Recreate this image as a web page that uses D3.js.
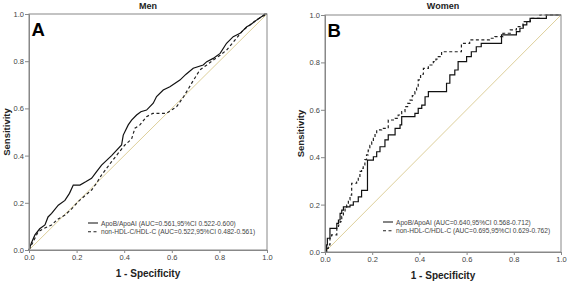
<!DOCTYPE html>
<html>
<head>
<style>
  body { margin: 0; background: #fff; }
  svg { display: block; font-family: Arial, "Liberation Sans", sans-serif; }
</style>
</head>
<body>
<svg id="svg" width="567" height="281"></svg>
<script src="https://d3js.org/d3.v7.min.js"></script>
<script>
// ROC points [1 - specificity, sensitivity]
const menApo = [[0,0],[0.01,0.03],[0.025,0.064],[0.045,0.09],[0.067,0.106],[0.08,0.14],[0.095,0.155],[0.123,0.19],[0.151,0.21],[0.17,0.24],[0.186,0.275],[0.214,0.275],[0.24,0.29],[0.263,0.304],[0.284,0.332],[0.305,0.36],[0.347,0.40],[0.389,0.445],[0.396,0.487],[0.417,0.53],[0.431,0.55],[0.452,0.572],[0.47,0.586],[0.494,0.593],[0.522,0.622],[0.536,0.65],[0.564,0.678],[0.592,0.692],[0.634,0.72],[0.66,0.745],[0.69,0.77],[0.732,0.784],[0.747,0.798],[0.774,0.812],[0.803,0.833],[0.83,0.876],[0.858,0.904],[0.887,0.918],[0.915,0.946],[0.929,0.953],[0.957,0.975],[0.978,0.989],[0.99,1],[1,1]];
const menNon = [[0,0],[0.02,0.04],[0.039,0.078],[0.06,0.09],[0.095,0.106],[0.12,0.13],[0.151,0.148],[0.18,0.175],[0.207,0.205],[0.235,0.23],[0.263,0.254],[0.285,0.285],[0.305,0.318],[0.347,0.374],[0.375,0.41],[0.403,0.445],[0.431,0.47],[0.445,0.516],[0.466,0.53],[0.494,0.565],[0.52,0.579],[0.578,0.579],[0.62,0.607],[0.65,0.65],[0.683,0.706],[0.718,0.763],[0.747,0.784],[0.774,0.805],[0.803,0.825],[0.83,0.847],[0.866,0.89],[0.9,0.932],[0.93,0.955],[0.96,0.978],[1,1]];
// women curves are steps: each point is where a jump lands
const womenApo = [[0,0],[0.007,0.03],[0.01,0.058],[0.021,0.1],[0.05,0.121],[0.057,0.135],[0.064,0.163],[0.071,0.177],[0.078,0.19],[0.106,0.198],[0.12,0.212],[0.141,0.233],[0.155,0.26],[0.18,0.388],[0.205,0.402],[0.219,0.423],[0.233,0.444],[0.254,0.473],[0.268,0.494],[0.297,0.522],[0.318,0.536],[0.325,0.571],[0.381,0.585],[0.395,0.606],[0.41,0.62],[0.424,0.655],[0.438,0.677],[0.515,0.712],[0.529,0.747],[0.55,0.768],[0.564,0.803],[0.6,0.824],[0.62,0.845],[0.641,0.866],[0.662,0.88],[0.748,0.916],[0.811,0.93],[0.826,0.944],[0.84,0.958],[0.855,0.972],[0.869,0.986],[0.938,1],[1,1]];
const womenNon = [[0,0],[0.007,0.015],[0.014,0.03],[0.021,0.058],[0.028,0.072],[0.05,0.1],[0.057,0.114],[0.064,0.128],[0.071,0.15],[0.078,0.17],[0.085,0.184],[0.092,0.198],[0.099,0.22],[0.106,0.24],[0.113,0.29],[0.134,0.297],[0.141,0.311],[0.148,0.34],[0.155,0.353],[0.162,0.367],[0.169,0.39],[0.176,0.41],[0.183,0.43],[0.19,0.45],[0.198,0.465],[0.205,0.48],[0.212,0.5],[0.219,0.515],[0.24,0.522],[0.268,0.557],[0.297,0.564],[0.31,0.578],[0.325,0.592],[0.339,0.613],[0.35,0.627],[0.36,0.641],[0.37,0.66],[0.381,0.677],[0.388,0.7],[0.395,0.726],[0.405,0.75],[0.417,0.775],[0.438,0.789],[0.459,0.803],[0.47,0.814],[0.48,0.824],[0.494,0.845],[0.578,0.88],[0.613,0.895],[0.697,0.902],[0.72,0.909],[0.754,0.923],[0.785,0.937],[0.811,0.951],[0.839,0.972],[0.87,0.986],[0.911,1],[1,1]];

const ticks = [0, 0.2, 0.4, 0.6, 0.8, 1.0];
const menLegend = ["ApoB/ApoAI (AUC=0.561,95%CI 0.522-0.600)", "non-HDL-C/HDL-C (AUC=0.522,95%CI 0.482-0.561)"];
const womenLegend = ["ApoB/ApoAI (AUC=0.640,95%CI 0.568-0.712)", "non-HDL-C/HDL-C (AUC=0.695,95%CI 0.629-0.762)"];

const panels = [
  { title: "Men", letter: "A", left: 29, right: 267, top: 14, bottom: 250, ylab: 6,
    apo: menApo, non: menNon, curve: d3.curveLinear, legend: menLegend, lx: 88, ly: 223 },
  { title: "Women", letter: "B", left: 325, right: 561, top: 15, bottom: 252, ylab: 300,
    apo: womenApo, non: womenNon, curve: d3.curveStepAfter, legend: womenLegend, lx: 383, ly: 222 }
];
const legendWidth = 154; // width of the longer legend row

const svg = d3.select('#svg');

panels.forEach(p => {
  const x = d3.scaleLinear().domain([0, 1]).range([p.left, p.right]);
  const y = d3.scaleLinear().domain([0, 1]).range([p.bottom, p.top]);
  const g = svg.append('g');
  const cx = (p.left + p.right) / 2;

  // reference diagonal
  g.append('line')
    .attr('x1', x(0)).attr('y1', y(0)).attr('x2', x(1)).attr('y2', y(1))
    .attr('stroke', '#d9c98f').attr('stroke-width', 0.9);

  const line = d3.line().x(d => x(d[0])).y(d => y(d[1])).curve(p.curve);
  g.append('path').attr('d', line(p.non))
    .attr('fill', 'none').attr('stroke', '#222').attr('stroke-width', 1.2)
    .attr('stroke-dasharray', '3,2.5');
  g.append('path').attr('d', line(p.apo))
    .attr('fill', 'none').attr('stroke', '#111').attr('stroke-width', 1.2);

  // frame
  g.append('rect')
    .attr('x', p.left).attr('y', p.top)
    .attr('width', p.right - p.left).attr('height', p.bottom - p.top)
    .attr('fill', 'none').attr('stroke', '#888').attr('stroke-width', 1);

  const ax = g.append('g').attr('transform', `translate(0,${p.bottom})`)
    .call(d3.axisBottom(x).tickValues(ticks).tickFormat(d3.format('.1f')).tickSize(3).tickPadding(2));
  const ay = g.append('g').attr('transform', `translate(${p.left},0)`)
    .call(d3.axisLeft(y).tickValues(ticks).tickFormat(d3.format('.1f')).tickSize(4).tickPadding(1));
  [ax, ay].forEach(a => {
    a.select('.domain').attr('stroke', '#888');
    a.selectAll('.tick line').attr('stroke', '#888');
    a.selectAll('.tick text').attr('fill', '#444').style('font-size', '7.5px').style('font-family', 'Arial, "Liberation Sans", sans-serif');
  });

  // titles
  g.append('text').attr('x', cx).attr('y', 9).attr('text-anchor', 'middle')
    .style('font-size', '9px').style('font-weight', 'bold').attr('fill', '#222').text(p.title);
  g.append('text').attr('x', cx).attr('y', p.bottom + 27).attr('text-anchor', 'middle')
    .style('font-size', '10px').style('font-weight', 'bold').attr('fill', '#222').text('1 - Specificity');
  g.append('text')
    .attr('transform', `translate(${p.ylab + 3.5},${(p.top + p.bottom) / 2}) rotate(-90)`)
    .attr('text-anchor', 'middle')
    .style('font-size', '9.5px').style('font-weight', 'bold').attr('fill', '#222').text('Sensitivity');
  g.append('text').attr('x', p.left + 2.5).attr('y', p.top + 21.5)
    .style('font-size', '18.5px').style('font-weight', 'bold').attr('fill', '#000').text(p.letter);

  // legend: shrink the font so the longer row fits inside the frame
  const rows = p.legend.map((t, i) => {
    const yy = p.ly + i * 8.7;
    g.append('line').attr('x1', p.lx).attr('x2', p.lx + 10).attr('y1', yy).attr('y2', yy)
      .attr('stroke', '#222').attr('stroke-width', 1.1)
      .attr('stroke-dasharray', i ? '3,2.5' : null);
    return g.append('text').attr('x', p.lx + 13).attr('y', yy + 2.6)
      .style('font-size', '7.4px').attr('fill', '#444').text(t);
  });
  const w = d3.max(rows, r => r.node().getComputedTextLength());
  const fs = Math.min(7.4, 7.4 * legendWidth / w);
  rows.forEach(r => r.style('font-size', fs + 'px'));
});
</script>
</body>
</html>
